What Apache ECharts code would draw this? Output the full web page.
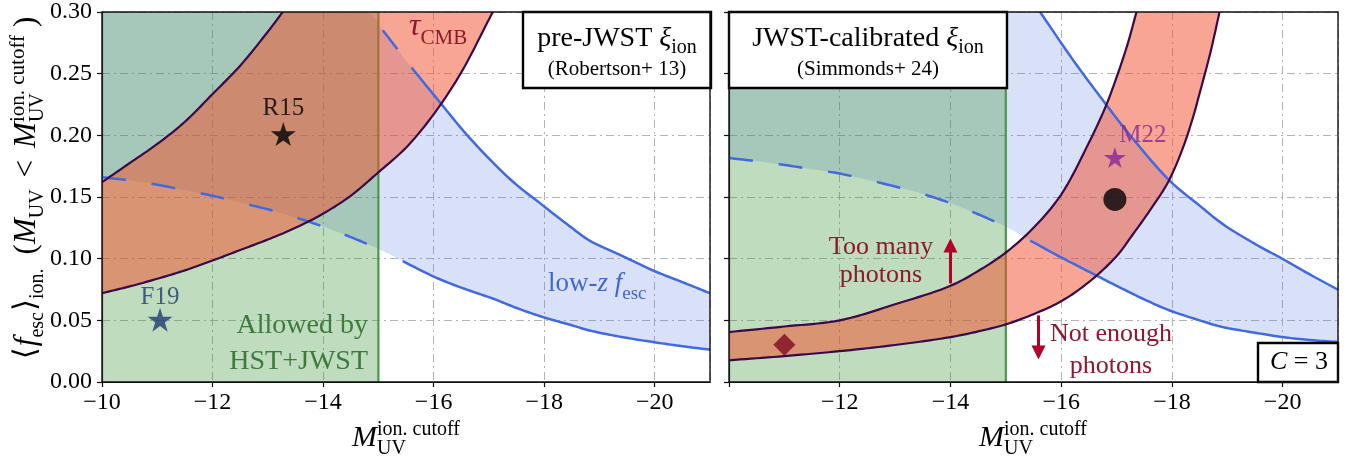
<!DOCTYPE html>
<html><head><meta charset="utf-8">
<script src="https://cdn.jsdelivr.net/npm/echarts@6/dist/echarts.min.js"></script>
<style>html,body{margin:0;padding:0;background:#fff;}#c{width:1358px;height:460px;}</style>
</head><body><div id="c"></div>
<script>
// ================= DATA (x = M_UV^cutoff, y = <f_esc>) =================
const xTickValues = [-10, -12, -14, -16, -18, -20];
const yTickValues = [0, 0.05, 0.10, 0.15, 0.20, 0.25, 0.30];
const xRange = [-10, -21];
const yRange = [0, 0.30];
const hstJwstLimit = -15;

// Left panel: pre-JWST xi_ion (Robertson+13)
const tauLowL  = [[-10,0.072],[-10.5,0.0775],[-11,0.0837],[-11.5,0.0905],[-12,0.0985],[-12.5,0.107],[-13,0.1155],[-13.5,0.125],[-14,0.1365],[-14.5,0.151],[-15,0.170],[-15.5,0.190],[-16,0.217],[-16.5,0.251],[-17,0.294],[-17.07,0.30]];
const tauHighL = [[-10,0.162],[-10.5,0.1775],[-11,0.193],[-11.5,0.211],[-12,0.2335],[-12.5,0.2565],[-13,0.284],[-13.27,0.30]];
const lowzLowL = [[-10,0.166],[-10.5,0.1635],[-11,0.160],[-11.5,0.1555],[-12,0.151],[-12.5,0.1455],[-13,0.140],[-13.5,0.1335],[-14,0.126],[-14.5,0.1175],[-15,0.108],[-15.44,0.098],[-16,0.0855],[-16.5,0.0765],[-17.08,0.0675],[-17.5,0.060],[-17.98,0.0526],[-18.5,0.046],[-18.82,0.0418],[-19.4,0.0365],[-19.97,0.0324],[-20.5,0.029],[-21,0.0262]];
const lowzHighL = [[-14.85,0.30],[-15.08,0.2852],[-15.6,0.255],[-16.14,0.2253],[-16.65,0.198],[-17.38,0.1646],[-17.98,0.143],[-18.5,0.125],[-18.82,0.1147],[-19.4,0.1025],[-19.97,0.0904],[-20.5,0.081],[-21,0.072]];
const r15 = [-13.28, 0.201];
const f19 = [-11.05, 0.0505];

// Right panel: JWST-calibrated xi_ion (Simmonds+24)
const tauLowR  = [[-10,0.0176],[-11,0.021],[-12,0.025],[-13,0.030],[-14,0.0364],[-14.5,0.041],[-15,0.0467],[-15.5,0.055],[-16,0.0655],[-16.5,0.081],[-17,0.102],[-17.3,0.120],[-17.6,0.139],[-17.93,0.162],[-18.2,0.190],[-18.38,0.2145],[-18.5,0.234],[-18.7,0.268],[-18.86,0.30]];
const tauHighR = [[-10,0.0405],[-11,0.045],[-12,0.050],[-13,0.063],[-14,0.078],[-14.5,0.090],[-15,0.105],[-15.5,0.125],[-16,0.152],[-16.5,0.194],[-16.8,0.223],[-17,0.247],[-17.2,0.274],[-17.36,0.30]];
const lowzLowR = [[-10,0.1816],[-10.5,0.179],[-11,0.176],[-11.5,0.1725],[-12,0.169],[-12.5,0.164],[-13,0.1585],[-13.5,0.1525],[-14,0.145],[-14.5,0.136],[-15,0.126],[-15.44,0.1147],[-16,0.101],[-16.52,0.089],[-17,0.078],[-17.5,0.067],[-17.96,0.058],[-18.5,0.050],[-18.92,0.0445],[-19.5,0.040],[-20,0.0364],[-20.5,0.034],[-21,0.0324]];
const lowzHighR = [[-15.62,0.30],[-16.2,0.262],[-16.76,0.228],[-17.3,0.197],[-17.96,0.1632],[-18.5,0.143],[-18.92,0.128],[-19.5,0.112],[-20,0.0998],[-20.5,0.087],[-21,0.0748]];
const m22 = [-16.97, 0.182];
const thisWork = [-16.97, 0.148];
const lowMassPoint = [-11.0, 0.0303];
const tooManyArrow = [[-14, 0.080], [-14, 0.1106]];
const notEnoughArrow = [[-15.59, 0.054], [-15.59, 0.024]];

// ================= STYLE =================
const FONT = '"Liberation Serif","DejaVu Serif",serif';
const C_BLUE_FILL = 'rgba(65,105,225,0.2)';
const C_BLUE_LINE = '#4169e1';
const C_GREEN_FILL = 'rgba(60,150,60,0.33)';
const C_GREEN_LINE = '#4a984a';
const C_RED_FILL = 'rgba(244,75,40,0.5)';
const C_RED_LINE = '#3a0a48';
const C_DARKRED = '#8c1a2c';
const C_ARROW = '#b2002a';
const DASH = [24, 26];

const P = p => [-p[0], p[1]];   // axis uses -M_UV so that ticks start at 10
const GRIDS = [{left:102, top:12, width:608, height:370},{left:729, top:12, width:609, height:370}];

// centripetal Catmull-Rom through the pixel positions of the read points (rendering only)
function spline(pts, n) {
  if (pts.length < 3) return pts.slice();
  const out = [pts[0]];
  const d = (a, b) => Math.max(Math.pow(Math.hypot(b[0]-a[0], b[1]-a[1]), 0.5), 1e-4);
  const mix = (a, b, wa, wb) => [a[0]*wa + b[0]*wb, a[1]*wa + b[1]*wb];
  for (let i = 0; i < pts.length - 1; i++) {
    const p1 = pts[i], p2 = pts[i+1];
    const p0 = i > 0 ? pts[i-1] : [2*p1[0]-p2[0], 2*p1[1]-p2[1]];
    const p3 = i + 2 < pts.length ? pts[i+2] : [2*p2[0]-p1[0], 2*p2[1]-p1[1]];
    const t0 = 0, t1 = t0 + d(p0,p1), t2 = t1 + d(p1,p2), t3 = t2 + d(p2,p3);
    for (let k = 1; k <= n; k++) {
      const t = t1 + (t2 - t1) * k / n;
      const A1 = mix(p0, p1, (t1-t)/(t1-t0), (t-t0)/(t1-t0));
      const A2 = mix(p1, p2, (t2-t)/(t2-t1), (t-t1)/(t2-t1));
      const A3 = mix(p2, p3, (t3-t)/(t3-t2), (t-t2)/(t3-t2));
      const B1 = mix(A1, A2, (t2-t)/(t2-t0), (t-t0)/(t2-t0));
      const B2 = mix(A2, A3, (t3-t)/(t3-t1), (t-t1)/(t3-t1));
      out.push(mix(B1, B2, (t2-t)/(t2-t1), (t-t1)/(t2-t1)));
    }
  }
  return out;
}
const clipOf = cs => ({type:'rect', shape:{x:cs.x, y:cs.y, width:cs.width, height:cs.height}});

function fillSeries(gi, lower, upper, color, z) {
  return {type:'custom', xAxisIndex:gi, yAxisIndex:gi, z, silent:true, data:[[10,0]],
    renderItem(params, api){
      const lo = spline(lower.map(p => api.coord(P(p))), 10);
      const up = spline(upper.map(p => api.coord(P(p))), 10).reverse();
      const pts = lo.concat(up);
      if (upper[0][0] !== lower[0][0]) pts.push(api.coord(P([lower[0][0], yRange[1]])));
      return {type:'polygon', shape:{points:pts}, style:{fill:color}, clipPath:clipOf(params.coordSys)};
    }};
}
function rectFill(gi, x0, x1, color, z) {
  return fillSeries(gi, [[x0, yRange[0]], [x1, yRange[0]]], [[x0, yRange[1]], [x1, yRange[1]]], color, z);
}
function lineSeries(gi, src, color, width, dash, z) {
  return {type:'custom', xAxisIndex:gi, yAxisIndex:gi, z, silent:true, data:[[10,0]],
    renderItem(params, api){
      const pts = spline(src.map(p => api.coord(P(p))), 10);
      return {type:'polyline', shape:{points:pts},
        style:{fill:null, stroke:color, lineWidth:width, lineDash:dash || null, lineCap:'butt', lineJoin:'round'},
        clipPath:clipOf(params.coordSys)};
    }};
}
const seg = (arr, xmin, xmax) => arr.filter(p => p[0] >= xmin && p[0] <= xmax);

const STAR = 'path://M50,0 L61.2,34.5 L97.6,34.5 L68.2,55.9 L79.4,90.5 L50,69.1 L20.6,90.5 L31.8,55.9 L2.4,34.5 L38.8,34.5 Z';

function xAxisCfg(gi) {
  return {type:'value', gridIndex:gi, min:-xRange[0], max:-xRange[1], interval:2,
    axisLine:{show:true, lineStyle:{color:'#111', width:1.2}},
    axisTick:{show:true, inside:false, length:5, lineStyle:{color:'#111', width:1.2}},
    axisLabel:{color:'#000', fontFamily:FONT, fontSize:24, margin:9, showMaxLabel:false,
      formatter: v => (xTickValues.indexOf(-v) < 0 || (gi === 1 && v === 10)) ? '' : '\u2212' + v},
    splitLine:{show:true, lineStyle:{color:'#b4b4b4', width:1, type:[8,4,2,4]}}};
}
function yAxisCfg(gi) {
  return {type:'value', gridIndex:gi, min:yRange[0], max:yRange[1], interval:0.05,
    axisLine:{show:true, lineStyle:{color:'#111', width:1.2}},
    axisTick:{show:true, inside:false, length:5, lineStyle:{color:'#111', width:1.2}},
    axisLabel:{show: gi === 0, color:'#000', fontFamily:FONT, fontSize:24, margin:10,
      formatter: v => v.toFixed(2)},
    splitLine:{show:true, lineStyle:{color:'#b4b4b4', width:1, type:[8,4,2,4]}}};
}

// ---------- math text helper ----------
const mctx = document.createElement('canvas').getContext('2d');
function tw(t, s, it) { mctx.font = (it ? 'italic ' : '') + s + 'px ' + FONT; return mctx.measureText(t).width; }
function mathText(parts, color, opt) {
  let x = 0, lastStart = 0, lastW = 0;
  const kids = [];
  parts.forEach(p => {
    const w = tw(p.t, p.s, p.i);
    let px;
    if (p.stack) { px = lastStart; const nw = Math.max(lastW, w); x = lastStart + nw; lastW = nw; }
    else { px = x + (p.pre || 0); lastStart = px; lastW = w; x = px + w; }
    kids.push({type:'text', x:px, y:(p.dy || 0) - 0.33 * p.s, silent:true, z:100,
      style:{text:p.t, fill:color, fontSize:p.s, fontFamily:FONT, fontStyle:p.i ? 'italic' : 'normal',
        align:'left', textAlign:'left', verticalAlign:'middle', textVerticalAlign:'middle'}});
  });
  const W = x;
  const shift = opt.align === 'center' ? -W / 2 : (opt.align === 'right' ? -W : 0);
  kids.forEach(k => { k.x += shift; });
  return {type:'group', x:opt.x, y:opt.y, rotation:opt.rotation || 0, children:kids, z:100};
}
function box(x, y, w, h) {
  return {type:'rect', shape:{x, y, width:w, height:h}, style:{fill:'#fff', stroke:'#000', lineWidth:2.4}, z:90, silent:true};
}
function frame(g) {
  return {type:'rect', shape:{x:g.left, y:g.top, width:g.width, height:g.height}, style:{fill:'none', stroke:'#111', lineWidth:1.4}, z:95, silent:true};
}

const series = [
  // ---- left panel ----
  fillSeries(0, lowzLowL, lowzHighL, C_BLUE_FILL, 1),
  rectFill(0, xRange[0], hstJwstLimit, C_GREEN_FILL, 2),
  lineSeries(0, [[hstJwstLimit, yRange[0]], [hstJwstLimit, yRange[1]]], C_GREEN_LINE, 2.2, null, 3),
  fillSeries(0, tauLowL, tauHighL, C_RED_FILL, 4),
  lineSeries(0, seg(lowzLowL, -15, -10), C_BLUE_LINE, 2.5, DASH, 5),
  lineSeries(0, seg(lowzLowL, -21, -15.44), C_BLUE_LINE, 2.5, null, 5),
  lineSeries(0, seg(lowzHighL, -15.6, -15.0), C_BLUE_LINE, 2.5, DASH, 5),
  lineSeries(0, seg(lowzHighL, -21, -15.6), C_BLUE_LINE, 2.5, null, 5),
  lineSeries(0, tauLowL, C_RED_LINE, 2.2, null, 6),
  lineSeries(0, tauHighL, C_RED_LINE, 2.2, null, 6),
  {type:'scatter', xAxisIndex:0, yAxisIndex:0, z:8, silent:true, symbol:STAR,
    data:[
      {value:P(r15), symbolSize:[25,24], itemStyle:{color:'#000'},
        label:{show:true, formatter:'R15', position:'inside', offset:[0,-26], color:'#000', fontFamily:FONT, fontSize:25}},
      {value:P(f19), symbolSize:[25,24], itemStyle:{color:'#1f3b73'},
        label:{show:true, formatter:'F19', position:'inside', offset:[0,-22], color:'#1f3b73', fontFamily:FONT, fontSize:25}}
    ]},
  // ---- right panel ----
  fillSeries(1, lowzLowR, lowzHighR, C_BLUE_FILL, 1),
  rectFill(1, xRange[0], hstJwstLimit, C_GREEN_FILL, 2),
  lineSeries(1, [[hstJwstLimit, yRange[0]], [hstJwstLimit, yRange[1]]], C_GREEN_LINE, 2.2, null, 3),
  fillSeries(1, tauLowR, tauHighR, C_RED_FILL, 4),
  lineSeries(1, seg(lowzLowR, -15, -10), C_BLUE_LINE, 2.5, DASH, 5),
  lineSeries(1, seg(lowzLowR, -21, -15.44), C_BLUE_LINE, 2.5, null, 5),
  lineSeries(1, lowzHighR, C_BLUE_LINE, 2.5, null, 5),
  lineSeries(1, tauLowR, C_RED_LINE, 2.2, null, 6),
  lineSeries(1, tauHighR, C_RED_LINE, 2.2, null, 6),
  {type:'scatter', xAxisIndex:1, yAxisIndex:1, z:8, silent:true,
    data:[
      {value:P(m22), symbol:STAR, symbolSize:[22,21], itemStyle:{color:'#8b2595'},
        label:{show:true, formatter:'M22', position:'inside', offset:[28,-22], color:'#8b2595', fontFamily:FONT, fontSize:25}},
      {value:P(thisWork), symbol:'circle', symbolSize:23, itemStyle:{color:'#000'}},
      {value:P(lowMassPoint), symbol:'diamond', symbolSize:22, itemStyle:{color:'#7d0a1f'}}
    ],
    markLine:{silent:true, symbol:['none','triangle'], symbolSize:14, animation:false,
      label:{show:false}, lineStyle:{color:C_ARROW, width:3, type:'solid'},
      emphasis:{disabled:true},
      data:[[{coord:P(tooManyArrow[0])},{coord:P(tooManyArrow[1])}],
            [{coord:P(notEnoughArrow[0])},{coord:P(notEnoughArrow[1])}]]}}
];

const graphics = [
  frame(GRIDS[0]), frame(GRIDS[1]),
  box(523, 12, 188, 76), box(729, 12, 278, 76), box(1258, 343, 80, 39),
  mathText([{t:'pre-JWST ', s:28}, {t:'\u03be', s:28, i:true}, {t:'ion', s:20, dy:6}], '#000', {x:617, y:48, align:'center'}),
  mathText([{t:'(Robertson+ 13)', s:21}], '#000', {x:617, y:76, align:'center'}),
  mathText([{t:'JWST-calibrated ', s:28}, {t:'\u03be', s:28, i:true}, {t:'ion', s:20, dy:6}], '#000', {x:868, y:48, align:'center'}),
  mathText([{t:'(Simmonds+ 24)', s:21}], '#000', {x:868, y:76, align:'center'}),
  mathText([{t:'C', s:26, i:true}, {t:' = 3', s:26}], '#000', {x:1299, y:371, align:'center'}),
  mathText([{t:'\u03c4', s:32, i:true}, {t:'CMB', s:21, dy:8}], C_DARKRED, {x:409, y:37, align:'left'}),
  mathText([{t:'Allowed by', s:28}], '#3d7a3d', {x:368, y:335, align:'right'}),
  mathText([{t:'HST+JWST', s:28}], '#3d7a3d', {x:368, y:371, align:'right'}),
  mathText([{t:'low-', s:27}, {t:'z', s:27, i:true}, {t:' ', s:27}, {t:'f', s:27, i:true}, {t:'esc', s:19, dy:7}], '#3f66d8', {x:548, y:293, align:'left'}),
  mathText([{t:'Too many', s:26}], C_DARKRED, {x:881, y:256, align:'center'}),
  mathText([{t:'photons', s:26}], C_DARKRED, {x:881, y:284, align:'center'}),
  mathText([{t:'Not enough', s:26}], C_DARKRED, {x:1111, y:343, align:'center'}),
  mathText([{t:'photons', s:26}], C_DARKRED, {x:1111, y:375, align:'center'}),
  // x-axis titles
  mathText([{t:'M', s:30, i:true}, {t:'ion. cutoff', s:20, dy:-12}, {t:'UV', s:20, dy:7, stack:true}], '#000', {x:406, y:448, align:'center'}),
  mathText([{t:'M', s:30, i:true}, {t:'ion. cutoff', s:20, dy:-12}, {t:'UV', s:20, dy:7, stack:true}], '#000', {x:1033, y:448, align:'center'}),
  // y-axis title (rotated)
  mathText([{t:'\u27e8', s:31}, {t:'f', s:31, i:true, pre:1}, {t:'esc', s:20, dy:7}, {t:'\u27e9', s:31, pre:1}, {t:'ion.', s:20, dy:7},
            {t:'(', s:31, pre:14}, {t:'M', s:31, i:true}, {t:'UV', s:20, dy:7}, {t:'<', s:31, pre:12},
            {t:'M', s:31, i:true, pre:12}, {t:'ion. cutoff', s:21, dy:-12}, {t:'UV', s:20, dy:7, stack:true}, {t:')', s:31, pre:8}],
            '#000', {x:37, y:188, align:'center', rotation:Math.PI / 2})
];

const chart = echarts.init(document.getElementById('c'), null, {renderer:'canvas'});
chart.setOption({
  animation:false,
  backgroundColor:'#fff',
  grid: GRIDS.map(g => Object.assign({containLabel:false}, g)),
  xAxis:[xAxisCfg(0), xAxisCfg(1)],
  yAxis:[yAxisCfg(0), yAxisCfg(1)],
  series,
  graphic: graphics
});
</script></body></html>
